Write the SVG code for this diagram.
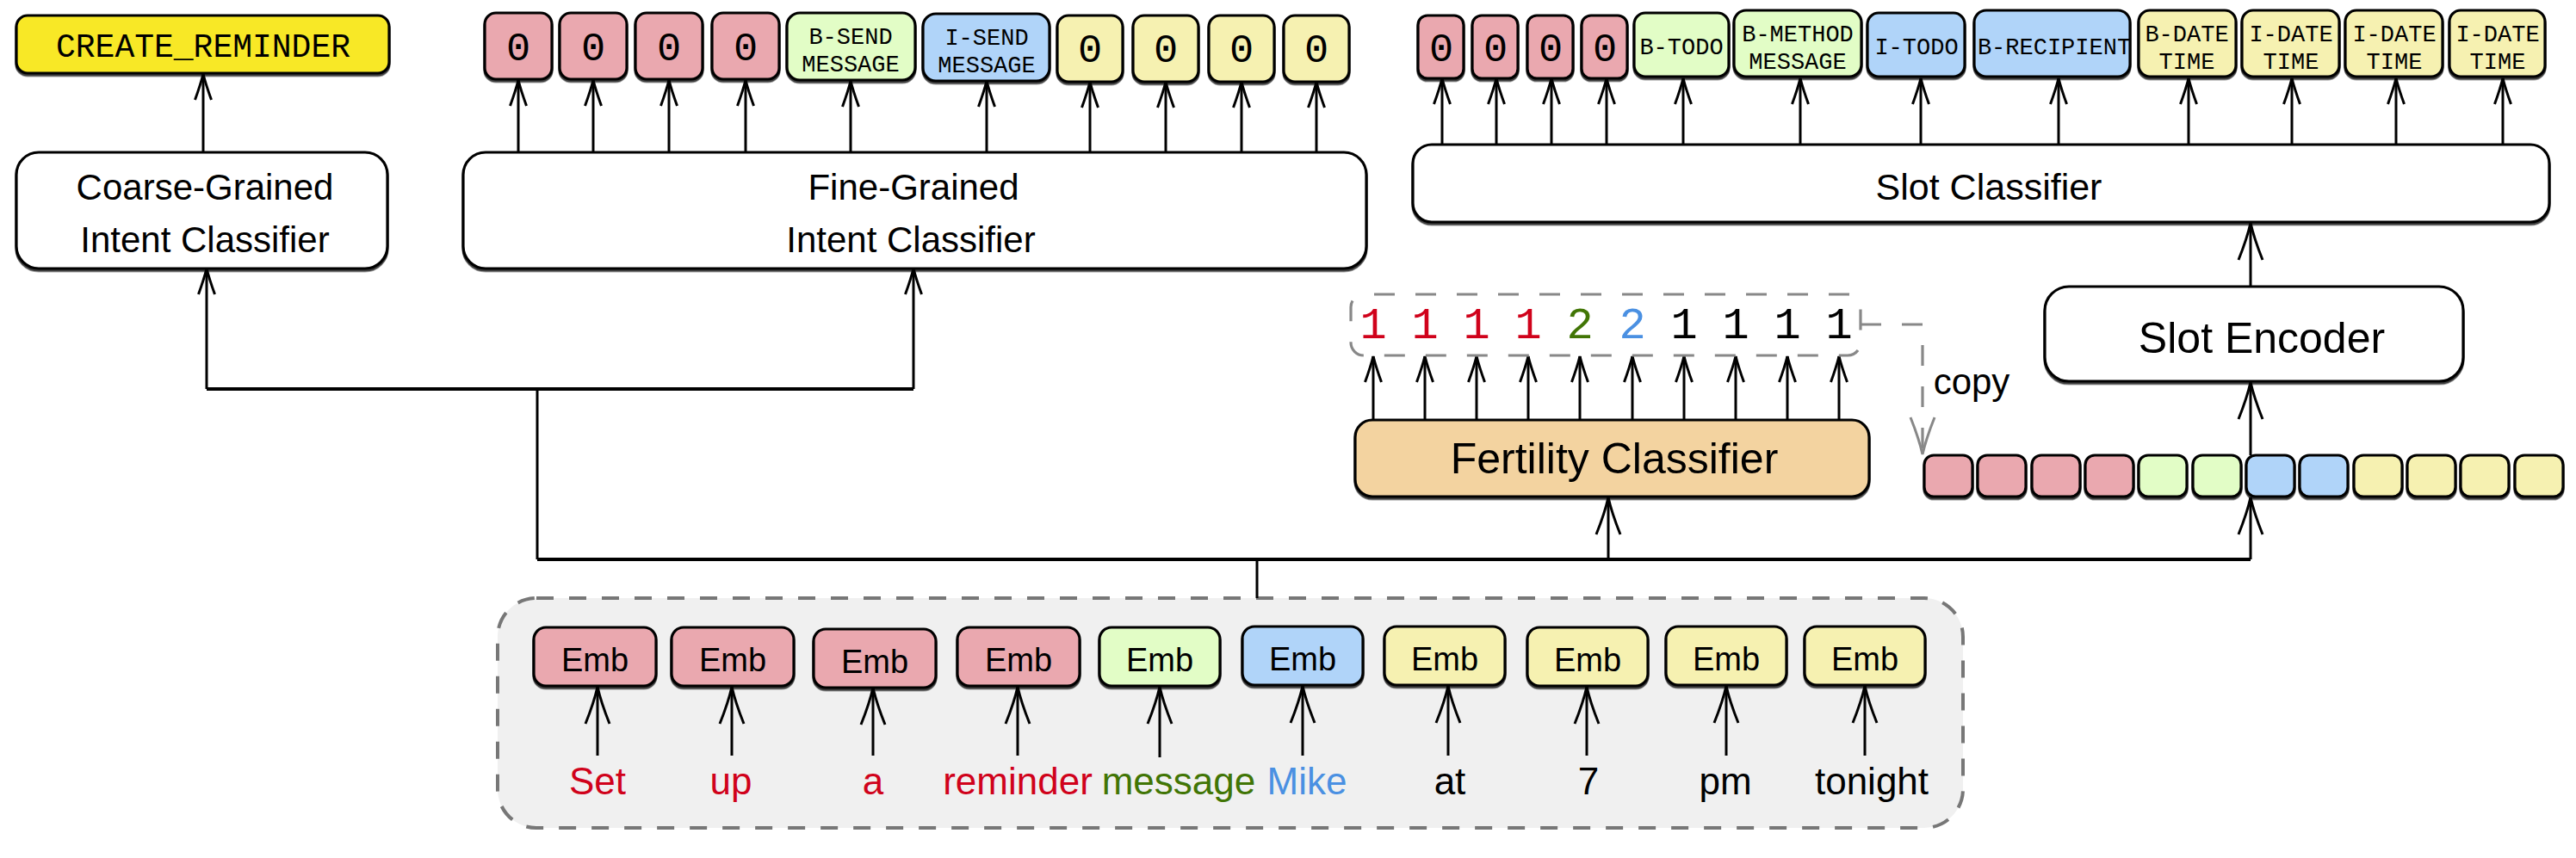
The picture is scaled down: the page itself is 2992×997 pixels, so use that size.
<svg xmlns="http://www.w3.org/2000/svg" width="2992" height="997" viewBox="0 0 2992 997">
<style>
.bx{stroke:#000;stroke-width:3.2;filter:url(#sh)}
.pk{fill:#EAA8AF}.gn{fill:#E2FDC6}.bl{fill:#B0D4F9}.yl{fill:#F6F1B1}.wh{fill:#fff}.or{fill:#F3D3A0}.cy{fill:#F8E825}
.sans{font-family:"Liberation Sans",Arial,sans-serif;fill:#000}
.mono{font-family:"Liberation Mono","Courier New",monospace;fill:#000}
.lbl{font-size:27px;text-anchor:middle}
.zero{font-size:47px;text-anchor:middle}
.big{font-size:42px;text-anchor:middle}
.emb{font-size:38px;text-anchor:middle}
.word{font-size:44px;text-anchor:middle}
.num{font-size:52px;text-anchor:middle}
.ln{stroke:#000;stroke-width:3;fill:none}
.bus{stroke:#000;stroke-width:4;fill:none}
.sa{marker-end:url(#as)}.la{marker-end:url(#al)}
.red{fill:#D0021B}.grn{fill:#417505}.blu{fill:#4A90E2}
</style>
<defs>
<filter id="sh" x="-5%" y="-10%" width="110%" height="130%">
<feDropShadow dx="0" dy="2.5" stdDeviation="0.6" flood-color="#000" flood-opacity="0.75"/>
</filter>
<marker id="as" markerUnits="userSpaceOnUse" orient="auto" overflow="visible" refX="0" refY="0" markerWidth="1" markerHeight="1">
<path d="M-30,-9.5 Q-12,-3 0,0 Q-12,3 -30,9.5" fill="none" stroke="#000" stroke-width="3"/>
</marker>
<marker id="al" markerUnits="userSpaceOnUse" orient="auto" overflow="visible" refX="0" refY="0" markerWidth="1" markerHeight="1">
<path d="M-43,-14 Q-18,-4 0,0 Q-18,4 -43,14" fill="none" stroke="#000" stroke-width="3"/>
</marker>
<marker id="ag" markerUnits="userSpaceOnUse" orient="auto" overflow="visible" refX="0" refY="0" markerWidth="1" markerHeight="1">
<path d="M-43,-14 Q-18,-4 0,0 Q-18,4 -43,14" fill="none" stroke="#888" stroke-width="3"/>
</marker>
</defs>
<rect width="2992" height="997" fill="#fff"/>

<!-- Embedding container -->
<g id="embedding-block">
<rect x="578" y="695" width="1702" height="267" rx="45" fill="#F0F0F0" stroke="#777" stroke-width="4" stroke-dasharray="20 18"/>
</g>

<!-- connectors -->
<g id="connectors">
<path class="bus" d="M240,452 H1061"/>
<path class="ln" d="M624,452 V650"/>
<path class="bus" d="M624,650 H2614"/>
<path class="ln" d="M1460,650 V695"/>
<path class="ln sa" d="M240,452 V312"/>
<path class="ln sa" d="M1061,452 V312"/>
<path class="ln la" d="M1868,650 V578"/>
<path class="ln la" d="M2614,650 V578"/>
<path class="ln la" d="M2614,529 V444"/>
<path class="ln la" d="M2614,333 V259"/>
<path class="ln sa" d="M236,177 V86"/>
<path class="ln sa" d="M602,177 V93"/>
<path class="ln sa" d="M689,177 V93"/>
<path class="ln sa" d="M777,177 V93"/>
<path class="ln sa" d="M866,177 V93"/>
<path class="ln sa" d="M988,177 V94"/>
<path class="ln sa" d="M1146,177 V94"/>
<path class="ln sa" d="M1266,177 V95"/>
<path class="ln sa" d="M1354,177 V95"/>
<path class="ln sa" d="M1442,177 V95"/>
<path class="ln sa" d="M1529,177 V95"/>
<path class="ln sa" d="M1675,168 V91"/>
<path class="ln sa" d="M1738,168 V91"/>
<path class="ln sa" d="M1802,168 V91"/>
<path class="ln sa" d="M1866,168 V91"/>
<path class="ln sa" d="M1955,168 V91"/>
<path class="ln sa" d="M2091,168 V91"/>
<path class="ln sa" d="M2231,168 V91"/>
<path class="ln sa" d="M2391,168 V91"/>
<path class="ln sa" d="M2542,168 V91"/>
<path class="ln sa" d="M2662,168 V91"/>
<path class="ln sa" d="M2783,168 V91"/>
<path class="ln sa" d="M2907,168 V91"/>
<path class="ln sa" d="M1595,488 V414"/>
<path class="ln sa" d="M1655,488 V414"/>
<path class="ln sa" d="M1715,488 V414"/>
<path class="ln sa" d="M1775,488 V414"/>
<path class="ln sa" d="M1835,488 V414"/>
<path class="ln sa" d="M1896,488 V414"/>
<path class="ln sa" d="M1956,488 V414"/>
<path class="ln sa" d="M2016,488 V414"/>
<path class="ln sa" d="M2076,488 V414"/>
<path class="ln sa" d="M2136,488 V414"/>
<path d="M2161,377 H2233 V528" fill="none" stroke="#888" stroke-width="3.2" stroke-dasharray="24 24" marker-end="url(#ag)"/>
<text class="sans" x="2290" y="458" font-size="42" text-anchor="middle">copy</text>
<path class="ln la" d="M694,878 V798"/>
<path class="ln la" d="M850,878 V798"/>
<path class="ln la" d="M1014,878 V799"/>
<path class="ln la" d="M1182,878 V798"/>
<path class="ln la" d="M1347,880 V798"/>
<path class="ln la" d="M1513,878 V797"/>
<path class="ln la" d="M1682,878 V797"/>
<path class="ln la" d="M1843,878 V798"/>
<path class="ln la" d="M2005,878 V797"/>
<path class="ln la" d="M2166,878 V797"/>
</g>

<g id="create-reminder">
<rect class="bx cy" x="19" y="18" width="433" height="67" rx="13"/>
<text class="mono" x="236" y="66" font-size="38" text-anchor="middle">CREATE_REMINDER</text>
</g>
<g id="coarse-classifier">
<rect class="bx wh" x="19" y="177" width="431" height="135" rx="26"/>
<text class="sans big" x="238" y="232">Coarse-Grained</text>
<text class="sans big" x="238" y="293">Intent Classifier</text>
</g>
<g id="fine-classifier">
<rect class="bx wh" x="538" y="177" width="1049" height="135" rx="26"/>
<text class="sans big" x="1061" y="232">Fine-Grained</text>
<text class="sans big" x="1058" y="293">Intent Classifier</text>
</g>

<g id="fine-labels">
<g id="fl1"><rect class="bx pk" x="563" y="15" width="78" height="77" rx="13"/><text class="mono zero" x="602" y="70">0</text></g>
<g id="fl2"><rect class="bx pk" x="650" y="15" width="78" height="77" rx="13"/><text class="mono zero" x="689" y="70">0</text></g>
<g id="fl3"><rect class="bx pk" x="738" y="15" width="78" height="77" rx="13"/><text class="mono zero" x="777" y="70">0</text></g>
<g id="fl4"><rect class="bx pk" x="827" y="15" width="78" height="77" rx="13"/><text class="mono zero" x="866" y="70">0</text></g>
<g id="fl5"><rect class="bx gn" x="914" y="15" width="149" height="78" rx="15"/><text class="mono lbl" x="988" y="51">B-SEND</text><text class="mono lbl" x="988" y="83">MESSAGE</text></g>
<g id="fl6"><rect class="bx bl" x="1072" y="16" width="147" height="78" rx="15"/><text class="mono lbl" x="1146" y="52">I-SEND</text><text class="mono lbl" x="1146" y="84">MESSAGE</text></g>
<g id="fl7"><rect class="bx yl" x="1228" y="18" width="76" height="77" rx="13"/><text class="mono zero" x="1266" y="72">0</text></g>
<g id="fl8"><rect class="bx yl" x="1316" y="18" width="76" height="77" rx="13"/><text class="mono zero" x="1354" y="72">0</text></g>
<g id="fl9"><rect class="bx yl" x="1404" y="18" width="76" height="77" rx="13"/><text class="mono zero" x="1442" y="72">0</text></g>
<g id="fl10"><rect class="bx yl" x="1491" y="18" width="76" height="77" rx="13"/><text class="mono zero" x="1529" y="72">0</text></g>
</g>

<g id="slot-labels">
<g id="sl1"><rect class="bx pk" x="1647" y="18" width="53" height="73" rx="11"/><text class="mono zero" x="1674" y="71">0</text></g>
<g id="sl2"><rect class="bx pk" x="1710" y="18" width="53" height="73" rx="11"/><text class="mono zero" x="1737" y="71">0</text></g>
<g id="sl3"><rect class="bx pk" x="1774" y="18" width="53" height="73" rx="11"/><text class="mono zero" x="1801" y="71">0</text></g>
<g id="sl4"><rect class="bx pk" x="1837" y="18" width="53" height="73" rx="11"/><text class="mono zero" x="1864" y="71">0</text></g>
<g id="sl5"><rect class="bx gn" x="1898" y="15" width="110" height="74" rx="13"/><text class="mono lbl" x="1953" y="63">B-TODO</text></g>
<g id="sl6"><rect class="bx gn" x="2014" y="12" width="148" height="77" rx="14"/><text class="mono lbl" x="2088" y="48">B-METHOD</text><text class="mono lbl" x="2088" y="80">MESSAGE</text></g>
<g id="sl7"><rect class="bx bl" x="2169" y="15" width="113" height="74" rx="13"/><text class="mono lbl" x="2226" y="63">I-TODO</text></g>
<g id="sl8"><rect class="bx bl" x="2293" y="12" width="181" height="77" rx="14"/><text class="mono lbl" x="2386" y="63">B-RECIPIENT</text></g>
<g id="sl9"><rect class="bx yl" x="2484" y="12" width="113" height="77" rx="13"/><text class="mono lbl" x="2540" y="48">B-DATE</text><text class="mono lbl" x="2540" y="80">TIME</text></g>
<g id="sl10"><rect class="bx yl" x="2604" y="12" width="113" height="77" rx="13"/><text class="mono lbl" x="2661" y="48">I-DATE</text><text class="mono lbl" x="2661" y="80">TIME</text></g>
<g id="sl11"><rect class="bx yl" x="2724" y="12" width="113" height="77" rx="13"/><text class="mono lbl" x="2781" y="48">I-DATE</text><text class="mono lbl" x="2781" y="80">TIME</text></g>
<g id="sl12"><rect class="bx yl" x="2845" y="12" width="111" height="77" rx="13"/><text class="mono lbl" x="2901" y="48">I-DATE</text><text class="mono lbl" x="2901" y="80">TIME</text></g>
</g>

<g id="slot-classifier">
<rect class="bx wh" x="1641" y="168" width="1320" height="90" rx="22"/>
<text class="sans" x="2310" y="232" font-size="43" text-anchor="middle">Slot Classifier</text>
</g>
<g id="slot-encoder">
<rect class="bx wh" x="2375" y="333" width="486" height="110" rx="28"/>
<text class="sans" x="2627" y="410" font-size="50" text-anchor="middle">Slot Encoder</text>
</g>
<g id="fertility-classifier">
<rect class="bx or" x="1574" y="488" width="597" height="89" rx="20"/>
<text class="sans" x="1875" y="550" font-size="50" text-anchor="middle">Fertility Classifier</text>
</g>

<g id="fertility-output">
<rect x="1569" y="342" width="592" height="71" rx="15" fill="none" stroke="#888" stroke-width="3.2" stroke-dasharray="24 24" stroke-dashoffset="-12"/>
<text class="mono num red" x="1595" y="393">1</text>
<text class="mono num red" x="1655" y="393">1</text>
<text class="mono num red" x="1715" y="393">1</text>
<text class="mono num red" x="1775" y="393">1</text>
<text class="mono num grn" x="1835" y="393">2</text>
<text class="mono num blu" x="1896" y="393">2</text>
<text class="mono num" x="1956" y="393">1</text>
<text class="mono num" x="2016" y="393">1</text>
<text class="mono num" x="2076" y="393">1</text>
<text class="mono num" x="2136" y="393">1</text>
</g>

<g id="expanded-sequence">
<rect class="bx pk" x="2235" y="529" width="56" height="48" rx="11"/>
<rect class="bx pk" x="2297" y="529" width="56" height="48" rx="11"/>
<rect class="bx pk" x="2360" y="529" width="56" height="48" rx="11"/>
<rect class="bx pk" x="2422" y="529" width="56" height="48" rx="11"/>
<rect class="bx gn" x="2484" y="529" width="56" height="48" rx="11"/>
<rect class="bx gn" x="2547" y="529" width="56" height="48" rx="11"/>
<rect class="bx bl" x="2609" y="529" width="56" height="48" rx="11"/>
<rect class="bx bl" x="2671" y="529" width="56" height="48" rx="11"/>
<rect class="bx yl" x="2734" y="529" width="56" height="48" rx="11"/>
<rect class="bx yl" x="2796" y="529" width="56" height="48" rx="11"/>
<rect class="bx yl" x="2858" y="529" width="56" height="48" rx="11"/>
<rect class="bx yl" x="2921" y="529" width="56" height="48" rx="11"/>
</g>

<g id="embeddings">
<g id="e1"><rect class="bx pk" x="620" y="729" width="142" height="68" rx="14"/><text class="sans emb" x="691" y="780">Emb</text></g>
<g id="e2"><rect class="bx pk" x="780" y="729" width="142" height="68" rx="14"/><text class="sans emb" x="851" y="780">Emb</text></g>
<g id="e3"><rect class="bx pk" x="945" y="731" width="142" height="68" rx="14"/><text class="sans emb" x="1016" y="782">Emb</text></g>
<g id="e4"><rect class="bx pk" x="1112" y="729" width="142" height="68" rx="14"/><text class="sans emb" x="1183" y="780">Emb</text></g>
<g id="e5"><rect class="bx gn" x="1277" y="729" width="140" height="68" rx="14"/><text class="sans emb" x="1347" y="780">Emb</text></g>
<g id="e6"><rect class="bx bl" x="1443" y="728" width="140" height="68" rx="14"/><text class="sans emb" x="1513" y="779">Emb</text></g>
<g id="e7"><rect class="bx yl" x="1608" y="728" width="140" height="68" rx="14"/><text class="sans emb" x="1678" y="779">Emb</text></g>
<g id="e8"><rect class="bx yl" x="1774" y="729" width="140" height="68" rx="14"/><text class="sans emb" x="1844" y="780">Emb</text></g>
<g id="e9"><rect class="bx yl" x="1935" y="728" width="140" height="68" rx="14"/><text class="sans emb" x="2005" y="779">Emb</text></g>
<g id="e10"><rect class="bx yl" x="2096" y="728" width="140" height="68" rx="14"/><text class="sans emb" x="2166" y="779">Emb</text></g>
</g>

<g id="words">
<text class="sans word red" x="694" y="923">Set</text>
<text class="sans word red" x="849" y="923">up</text>
<text class="sans word red" x="1014" y="923">a</text>
<text class="sans word red" x="1182" y="923">reminder</text>
<text class="sans word grn" x="1369" y="923">message</text>
<text class="sans word blu" x="1518" y="923">Mike</text>
<text class="sans word" x="1684" y="923">at</text>
<text class="sans word" x="1845" y="923">7</text>
<text class="sans word" x="2004" y="923">pm</text>
<text class="sans word" x="2174" y="923">tonight</text>
</g>
</svg>
